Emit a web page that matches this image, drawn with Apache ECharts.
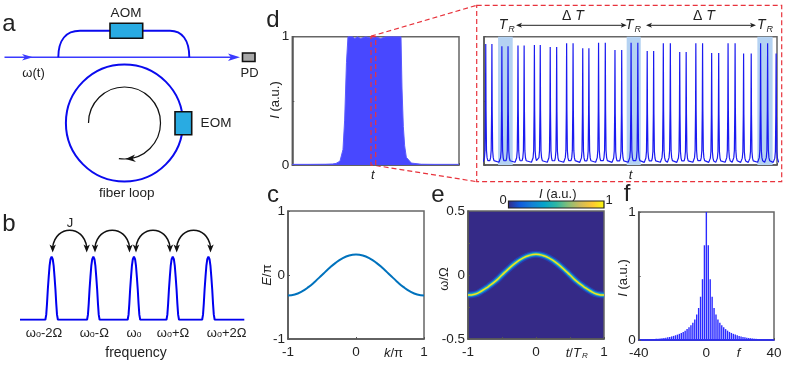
<!DOCTYPE html>
<html>
<head>
<meta charset="utf-8">
<style>html,body{margin:0;padding:0;background:#fff}#main{width:789px;height:372px}</style>
<script src="https://cdn.jsdelivr.net/npm/echarts@6/dist/echarts.min.js"></script>
</head>
<body>
<div id="main"></div>
<script>
// panel b: comb of frequency peaks
var combPeaks = [14.1, 32.7, 50.8, 68.1, 84];
var combOffsets = [-2.8, -2.4, -2.05, -1.7, -1.3, -0.9, -0.5, 0, 0.5, 0.9, 1.3, 1.7, 2.05, 2.4, 2.8];
var combShape = [0, 0.08, 0.26, 0.48, 0.68, 0.86, 0.96, 1, 0.96, 0.86, 0.68, 0.48, 0.26, 0.08, 0];
var combLabels = [['-2Ω', 44], ['-Ω', 94.3], ['', 134], ['+Ω', 173], ['+2Ω', 226.7]];

// panel c: band
var kValues = [-1, -0.9, -0.8, -0.7, -0.6, -0.5, -0.4, -0.3, -0.2, -0.1, 0, 0.1, 0.2, 0.3, 0.4, 0.5, 0.6, 0.7, 0.8, 0.9, 1];
var bandE = [-0.32, -0.305, -0.26, -0.19, -0.1, 0, 0.1, 0.19, 0.26, 0.305, 0.32, 0.305, 0.26, 0.19, 0.1, 0, -0.1, -0.19, -0.26, -0.305, -0.32];

// panel d: overview envelope
var envT = [0, 0.1, 0.2, 0.24, 0.262, 0.286, 0.304, 0.314, 0.325, 0.334, 0.36, 0.375, 0.39, 0.41, 0.44, 0.47, 0.5, 0.53, 0.56, 0.6, 0.652, 0.658, 0.666, 0.674, 0.684, 0.714, 0.774, 0.85, 1];
var envI = [0.005, 0.005, 0.006, 0.008, 0.012, 0.03, 0.12, 0.35, 0.8, 1, 1, 0.985, 1, 0.985, 1, 0.99, 1, 0.985, 1, 1, 1, 0.6, 0.3, 0.15, 0.06, 0.015, 0.006, 0.005, 0.005];

// panel d: zoomed trace
var peakTimes = [0.6, 2.7, 6.1, 8.2, 11.6, 13.7, 17.2, 19.2, 22.6, 24.8, 28.2, 30.4, 33.7, 35.8, 39.1, 41.4, 44.7, 47, 50.2, 52.5, 55.7, 57.9, 61.2, 63.6, 66.8, 69, 72.3, 74.6, 77.7, 80.1, 83.3, 85.7, 88.6, 91.2, 94.4, 96.8, 99.7];
var peakHeights = [0.943, 0.943, 0.925, 0.925, 0.932, 0.932, 0.935, 0.935, 0.919, 0.919, 0.948, 0.948, 0.909, 0.909, 0.953, 0.953, 0.896, 0.896, 0.953, 0.953, 0.888, 0.888, 0.948, 0.948, 0.88, 0.88, 0.948, 0.948, 0.873, 0.873, 0.948, 0.948, 0.87, 0.87, 0.948, 0.948, 0.87];
var peakOffsets = [-1, -0.7, -0.45, -0.25, -0.1, 0, 0.1, 0.25, 0.45, 0.7, 1];
var peakShape = [0.012, 0.025, 0.05, 0.12, 0.45, 1, 0.45, 0.12, 0.05, 0.025, 0.012];
var bandStart = [4.8, 48.7, 93.3];
var bandEnd = [9.8, 53.5, 98.5];

// panel e: ridge of the heat map
var ridgeT = [-1, -0.9, -0.8, -0.7, -0.6, -0.5, -0.4, -0.3, -0.2, -0.1, 0, 0.1, 0.2, 0.3, 0.4, 0.5, 0.6, 0.7, 0.8, 0.9, 1];
var ridgeW = [-0.157, -0.15, -0.125, -0.09, -0.05, 0, 0.05, 0.095, 0.13, 0.153, 0.162, 0.153, 0.13, 0.095, 0.05, 0, -0.05, -0.09, -0.125, -0.15, -0.157];
var parula = ['#352a87', '#0f5cdd', '#1481d6', '#06a4ca', '#2eb7a4', '#87bf77', '#d1bb59', '#fec832', '#f9fb0e'];

// panel f: spectrum, one side (mirrored about 0)
var specStep = 1.14;
var specValues = [1, 0.74, 0.475, 0.338, 0.25, 0.2, 0.16, 0.135, 0.115, 0.1, 0.085, 0.073, 0.063, 0.055, 0.048, 0.042, 0.037, 0.032, 0.028, 0.024, 0.021, 0.018, 0.016, 0.014, 0.012, 0.01, 0.009, 0.008, 0.007, 0.006, 0.005, 0.005, 0.004, 0.004, 0.003];

var font = '"Liberation Sans", Arial, sans-serif';
var chart = echarts.init(document.getElementById('main'));
var gfx = [];

function text(x, y, str, size, extra){
	var st = {text: str, fontSize: size || 13, fontFamily: font, fill: '#222', align: 'center', verticalAlign: 'middle'};
	extra = extra || {};
	if(extra.rich){
		st.rich = extra.rich;
	}
	if(extra.italic){
		st.fontStyle = 'italic';
	}
	gfx.push({type: 'text', x: x, y: y, rotation: extra.rot || 0, silent: true, z: 10, style: st});
}
function seg(x1, y1, x2, y2, color, w, dash){
	gfx.push({type: 'line', silent: true, shape: {x1: x1, y1: y1, x2: x2, y2: y2}, style: {stroke: color, lineWidth: w, lineDash: dash || null}});
}
function curve(x1, y1, cx1, cy1, cx2, cy2, x2, y2, color, w){
	gfx.push({type: 'bezierCurve', silent: true, shape: {x1: x1, y1: y1, cpx1: cx1, cpy1: cy1, cpx2: cx2, cpy2: cy2, x2: x2, y2: y2}, style: {fill: 'none', stroke: color, lineWidth: w}});
}
function head(pts, color){
	gfx.push({type: 'polygon', silent: true, shape: {points: pts}, style: {fill: color}});
}
function box(x, y, w, h, fill){
	gfx.push({type: 'rect', silent: true, z: 5, shape: {x: x, y: y, width: w, height: h}, style: {fill: fill, stroke: '#111', lineWidth: 1.6}});
}

var iRich = {i: {fontStyle: 'italic', fontSize: 13, fontFamily: font, fill: '#222'}, n: {fontSize: 13, fontFamily: font, fill: '#222'}};
var wRich = {n: {fontSize: 13, fontFamily: font, fill: '#222'}, s: {fontSize: 9, fontFamily: font, fill: '#222', padding: [2, 0, 0, 0]}};
var tRich = {t: {fontStyle: 'italic', fontSize: 14, fontFamily: font, fill: '#222'}, r: {fontStyle: 'italic', fontSize: 9, fontFamily: font, fill: '#222', padding: [7, 0, 0, 1]}};

// panel letters
text(9, 24, 'a', 24);
text(9, 224, 'b', 24);
text(273, 195, 'c', 24);
text(273, 20, 'd', 24);
text(438, 195, 'e', 24);
text(627, 194, 'f', 24);

// panel a schematic
var blue = '#0a0aee';
seg(4.5, 57.3, 233, 57.3, '#3a3aff', 1.6);
head([[33, 57.3], [22, 54], [25, 57.3], [22, 60.6]], '#3a3aff');
head([[240, 57.3], [228, 53.5], [231, 57.3], [228, 61]], '#3a3aff');
curve(58.3, 57.3, 58.3, 40, 66, 30.7, 80, 30.7, blue, 1.9);
seg(80, 30.7, 170, 30.7, blue, 1.9);
curve(170, 30.7, 182, 30.7, 189.3, 40, 189.3, 57.3, blue, 1.9);
gfx.push({type: 'circle', silent: true, shape: {cx: 124.4, cy: 123, r: 58.5}, style: {fill: 'none', stroke: blue, lineWidth: 2}});
box(110, 23.3, 32.7, 15, '#29abe2');
box(175, 111.7, 16.7, 23, '#29abe2');
box(242.5, 53, 12.5, 8.5, '#a8a8a8');
gfx.push({type: 'arc', silent: true, shape: {cx: 124.5, cy: 123, r: 36, startAngle: Math.PI, endAngle: Math.PI * 2.55, clockwise: true}, style: {fill: 'none', stroke: '#111', lineWidth: 1.2}});
head([[125.5, 159], [135, 154.5], [132.5, 158.5], [136, 162]], '#111');
text(126, 13.5, 'AOM', 13.5);
text(33.5, 73, 'ω(t)', 13);
text(249.5, 73.5, 'PD', 13);
text(216, 123.5, 'EOM', 13.5);
text(126.7, 193.5, 'fiber loop', 13.5);

// panel b arrows and labels
var hop = [[52.7, 86.7], [95, 129.5], [136, 170], [176.7, 210.5]];
hop.forEach(function(h){
	curve(h[0], 247, h[0] + 3, 224.5, h[1] - 3, 224.5, h[1], 247, '#111', 1.5);
	head([[h[0], 252.5], [h[0] - 3.2, 244.5], [h[0], 246.5], [h[0] + 3.2, 244.5]], '#111');
	head([[h[1], 252.5], [h[1] - 3.2, 244.5], [h[1], 246.5], [h[1] + 3.2, 244.5]], '#111');
});
text(70, 223, 'J', 13);
combLabels.forEach(function(l){
	text(l[1], 333.5, '{n|ω}{s|o}{n|' + l[0] + '}', 13, {rich: wRich});
});
text(136, 353, 'frequency', 14);

// axis titles
text(275, 100, '{i|I}{n| (a.u.)}', 13, {rot: Math.PI / 2, rich: iRich});
text(372.7, 175, 't', 13, {italic: true});
text(630.5, 175, 't', 13, {italic: true});
text(267.5, 275, '{i|E}{n|/π}', 13, {rot: Math.PI / 2, rich: iRich});
text(393.5, 353, '{i|k}{n|/π}', 13, {rich: iRich});
text(444, 279, 'ω/Ω', 13, {rot: Math.PI / 2});
text(576.7, 353, '{i|t}{n|/}{t|T}{r|R}', 13, {rich: {
	i: iRich.i, n: iRich.n,
	t: {fontStyle: 'italic', fontSize: 13, fontFamily: font, fill: '#222'},
	r: {fontStyle: 'italic', fontSize: 8, fontFamily: font, fill: '#222', padding: [6, 0, 0, 1]}
}});
text(623, 278, '{i|I}{n| (a.u.)}', 13, {rot: Math.PI / 2, rich: iRich});
text(738.5, 353, 'f', 13, {italic: true});

// colorbar
gfx.push({type: 'rect', silent: true, shape: {x: 508.5, y: 201, width: 95.5, height: 7}, style: {
	fill: new echarts.graphic.LinearGradient(0, 0, 1, 0, parula.map(function(c, i){
		return {offset: i / (parula.length - 1), color: c};
	})),
	stroke: '#222', lineWidth: 1.2
}});
text(503, 200, '0', 13);
text(609, 200, '1', 13);
text(557.7, 194, '{i|I}{n| (a.u.)}', 13, {rich: iRich});

// red zoom frame
var red = '#e8333c';
gfx.push({type: 'rect', silent: true, shape: {x: 476.7, y: 5.3, width: 305, height: 176.4}, style: {fill: 'none', stroke: red, lineWidth: 1.2, lineDash: [5, 3]}});
gfx.push({type: 'rect', silent: true, z: 5, shape: {x: 371, y: 36.7, width: 4.7, height: 128.5}, style: {fill: 'none', stroke: red, lineWidth: 1.2, lineDash: [5, 3]}});
seg(371, 36.2, 476.7, 5.3, red, 1.2, [5, 3]);
seg(375.7, 165.5, 476.7, 181.7, red, 1.2, [5, 3]);

// annotations over the zoomed trace
var arrows = [[516, 626.7, 573], [646, 756, 704]];
arrows.forEach(function(a){
	seg(a[0] + 4, 25.3, a[1] - 4, 25.3, '#222', 1);
	head([[a[0], 25.3], [a[0] + 6, 22.8], [a[0] + 4.5, 25.3], [a[0] + 6, 27.8]], '#222');
	head([[a[1], 25.3], [a[1] - 6, 22.8], [a[1] - 4.5, 25.3], [a[1] - 6, 27.8]], '#222');
	text(a[2], 16.5, '{d|Δ }{t|T}', 14, {rich: {d: {fontSize: 14, fontFamily: font, fill: '#222'}, t: tRich.t}});
});
[506.7, 633, 765].forEach(function(x){
	text(x, 25.5, '{t|T}{r|R}', 14, {rich: tRich});
});

function axisBase(min, max, interval, labels, extra){
	var ax = {
		type: 'value', min: min, max: max, interval: interval, splitLine: {show: false},
		axisLine: {show: true, onZero: false, lineStyle: {color: '#555', width: 1.5}},
		axisTick: {show: true, inside: true, length: 2, lineStyle: {color: '#555', width: 1}},
		axisLabel: {
			show: !!labels, fontFamily: font, fontSize: 13.5, color: '#222', margin: extra.lab || 4, showMinLabel: true, showMaxLabel: true,
			formatter: function(v){
				return labels && labels[String(v)] !== undefined ? labels[String(v)] : '';
			}
		}
	};
	ax.gridIndex = extra.gridIndex;
	return ax;
}
function gridAt(left, top, width, height, bg){
	return {left: left, top: top, width: width, height: height, show: true, backgroundColor: bg || 'transparent', borderColor: '#666', borderWidth: 1.5, containLabel: false};
}
function hiddenAxis(min, max){
	return {type: 'value', min: min, max: max, show: false};
}

var combLine = [[0, 0]];
combPeaks.forEach(function(p){
	combOffsets.forEach(function(o, i){
		combLine.push([p + o, combShape[i]]);
	});
});
combLine.push([100, 0]);

var peakLine = [];
peakTimes.forEach(function(p, n){
	peakOffsets.forEach(function(o, i){
		peakLine.push([p + o, peakShape[i] * peakHeights[n] + (peakShape[i] < 0.1 ? 0.01 : 0)]);
	});
});
var bandAreas = bandStart.map(function(s, i){
	return [{xAxis: s}, {xAxis: bandEnd[i]}];
});

var specData = [];
specValues.forEach(function(v, i){
	specData.push([i * specStep, v]);
	if(i > 0){
		specData.push([-i * specStep, v]);
	}
});

function zipped(a, b){
	return a.map(function(v, i){
		return [v, b[i]];
	});
}
function ridgeLayer(color, width, z){
	return {type: 'line', xAxisIndex: 4, yAxisIndex: 4, data: zipped(ridgeT, ridgeW), smooth: true, showSymbol: false, silent: true, z: z, lineStyle: {color: color, width: width, cap: 'butt'}};
}

var fx = axisBase(-40, 40, 40, {'-40': '-40', '0': '0', '40': '40'}, {gridIndex: 5, lab: 6});
fx.axisLine.lineStyle.color = '#1a1af5';

chart.setOption({
	animation: false,
	backgroundColor: '#fff',
	grid: [
		{left: 20, top: 256.7, width: 224.3, height: 63, show: false},
		gridAt(288, 211, 136, 128),
		gridAt(292.3, 36.7, 166.7, 128.3),
		gridAt(484, 36.7, 293, 128.3),
		gridAt(468, 211, 136, 128, '#352a87'),
		gridAt(638.7, 212, 135.3, 128)
	],
	xAxis: [
		hiddenAxis(0, 100),
		axisBase(-1, 1, 1, {'-1': '-1', '0': '0', '1': '1'}, {gridIndex: 1, lab: 6}),
		axisBase(0, 1, 0.5, null, {gridIndex: 2}),
		axisBase(0, 100, 50, null, {gridIndex: 3}),
		axisBase(-1, 1, 0.5, {'-1': '-1', '0': '0', '1': '1'}, {gridIndex: 4, lab: 6}),
		fx
	],
	yAxis: [
		hiddenAxis(0, 1),
		axisBase(-1, 1, 1, {'-1': '-1', '0': '0', '1': '1'}, {gridIndex: 1, lab: 3}),
		axisBase(0, 1, 0.5, {'0': '0', '1': '1'}, {gridIndex: 2, lab: 3}),
		axisBase(0, 1, 0.5, null, {gridIndex: 3}),
		axisBase(-0.5, 0.5, 0.25, {'-0.5': '-0.5', '0': '0', '0.5': '0.5'}, {gridIndex: 4, lab: 3}),
		axisBase(0, 1, 0.5, {'0': '0', '1': '1'}, {gridIndex: 5, lab: 3})
	],
	series: [
		{type: 'line', xAxisIndex: 0, yAxisIndex: 0, data: combLine, showSymbol: false, silent: true, lineStyle: {color: '#0000f0', width: 2}},
		{type: 'line', xAxisIndex: 1, yAxisIndex: 1, data: zipped(kValues, bandE), smooth: true, showSymbol: false, silent: true, lineStyle: {color: '#0072bd', width: 2}},
		{type: 'line', xAxisIndex: 2, yAxisIndex: 2, data: zipped(envT, envI), showSymbol: false, silent: true, lineStyle: {color: '#5a5aff', width: 1}, areaStyle: {color: '#4848ff', opacity: 1}},
		{
			type: 'line', xAxisIndex: 3, yAxisIndex: 3, data: peakLine, showSymbol: false, silent: true, lineStyle: {color: '#1a1af0', width: 1.2},
			markArea: {silent: true, itemStyle: {color: '#b4d2f2'}, data: bandAreas}
		},
		ridgeLayer('rgba(20,90,225,0.5)', 7, 2),
		ridgeLayer('#1481d6', 4.5, 3),
		ridgeLayer('#2eb7a4', 2.8, 4),
		ridgeLayer('#f2e21e', 1.5, 5),
		{type: 'bar', xAxisIndex: 5, yAxisIndex: 5, data: specData, barWidth: 1.4, silent: true, itemStyle: {color: '#2a2aff'}}
	],
	graphic: {elements: gfx}
});
</script>
</body>
</html>
